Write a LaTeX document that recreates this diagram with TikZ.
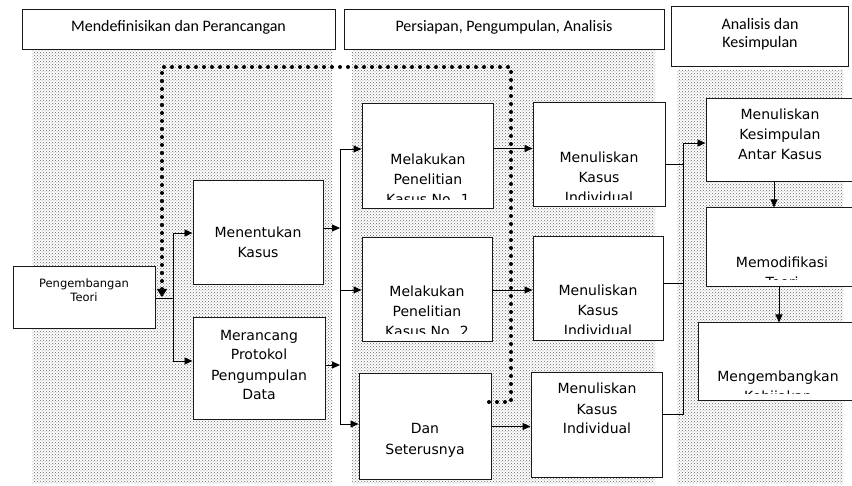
\documentclass[tikz,border=0pt]{standalone}
\usepackage{fontspec}
\setmainfont{DejaVu Sans}
\newfontfamily\hdrfont{Carlito}
\usetikzlibrary{patterns,arrows.meta}
\newcommand\mybox[5]{\node[hbox, minimum width={#4pt-#2pt}, minimum height={#5pt-#3pt}] (#1) at ({(#2+#4)/2},{(#3+#5)/2}) {};}
\begin{document}
\begin{tikzpicture}[x=1pt,y=-1pt,
  region/.style={pattern=crosshatch dots, pattern color=black!60},
  hbox/.style={draw=black!90, line width=1pt, fill=white, inner sep=0pt},
  txt/.style={align=center, anchor=base, inner sep=0pt, font=\fontsize{14}{20}\selectfont},
  smalltxt/.style={align=center, anchor=base, inner sep=0pt, font=\fontsize{11.5}{14}\selectfont},
  htxt/.style={align=center, anchor=base, inner sep=0pt, font=\hdrfont\fontsize{16}{18}\selectfont},
  conn/.style={draw=black, line width=0.9pt},
  arr/.style={conn, -{Triangle[length=8pt,width=7pt]}},
  fback/.style={draw=black, line width=4pt, line cap=round, dash pattern=on 0pt off 8pt},
]
\useasboundingbox (0,0) rectangle (852,486);
\fill[white] (0,0) rectangle (852,486);
% shaded phase regions
\path[region] (32,51) rectangle (332,483);
\path[region] (352,51) rectangle (655,483);
\path[region] (677,70) rectangle (843,483);
% headers
\mybox{H1}{22}{10}{335}{50}
\mybox{H2}{344}{10}{664}{50}
\mybox{H3}{671}{7}{848}{67}
\node[htxt] (H1t) at (178.5,32) {Mendefinisikan dan Perancangan};
\node[htxt] (H2t) at (504,32) {Persiapan, Pengumpulan, Analisis};
\node[htxt] (H3t) at (760,48) {Analisis dan\\Kesimpulan};
% boxes
\mybox{PT}{13}{267}{155}{329}
\mybox{MK}{193}{181}{323}{285}
\mybox{MP}{193}{318}{325}{420}
\mybox{ML1}{362}{104}{493}{209}
\mybox{ML2}{362}{238}{492}{342}
\mybox{DS}{359}{374}{491}{479}
\mybox{MN1}{533}{103}{665}{207}
\mybox{MN2}{533}{237}{663}{341}
\mybox{MN3}{531}{373}{662}{477}
\mybox{KS}{706}{99}{858}{182}
\mybox{MO}{706}{208}{858}{287}
\mybox{ME}{698}{323}{858}{401}
% texts (anchor base = baseline of the last line)
\node[smalltxt] (PTt) at (84,302) {Pengembangan\\Teori};
\node[txt] (MKt) at (258,258) {Menentukan\\Kasus};
\node[txt] (MPt) at (259,400) {Merancang\\Protokol\\Pengumpulan\\Data};
\begin{scope}
  \clip (ML1.north west) rectangle (ML1.south east |- 0,200);
  \node[txt] (ML1t) at (428,205) {Melakukan\\Penelitian\\Kasus No. 1};
\end{scope}
\begin{scope}
  \clip (ML2.north west) rectangle (ML2.south east |- 0,334);
  \node[txt] (ML2t) at (427,337) {Melakukan\\Penelitian\\Kasus No. 2};
\end{scope}
\node[txt, font=\fontsize{14}{21}\selectfont] (DSt) at (425,454) {Dan\\Seterusnya};
\begin{scope}
  \clip (MN1.north west) rectangle (MN1.south east |- 0,200);
  \node[txt] (MN1t) at (599,203) {Menuliskan\\Kasus\\Individual};
\end{scope}
\begin{scope}
  \clip (MN2.north west) rectangle (MN2.south east |- 0,334);
  \node[txt] (MN2t) at (598,336) {Menuliskan\\Kasus\\Individual};
\end{scope}
\node[txt] (MN3t) at (597,434) {Menuliskan\\Kasus\\Individual};
\node[txt] (KSt) at (780,160) {Menuliskan\\Kesimpulan\\Antar Kasus};
\begin{scope}
  \clip (MO.north west) rectangle (MO.south east |- 0,279.5);
  \node[txt] (MOt) at (782,288) {Memodifikasi\\Teori};
\end{scope}
\begin{scope}
  \clip (ME.north west) rectangle (ME.south east |- 0,393.5);
  \node[txt] (MEt) at (778,402) {Mengembangkan\\Kebijakan};
\end{scope}
% connectors: phase 1
\coordinate (j1) at (173,298);
\draw[conn] (PT.east) -- (j1);
\draw[arr] (j1) |- (MK.west);
\draw[arr] (j1) |- ([yshift=8pt]MP.west);
% bus 2
\coordinate (b2t) at (340,149);
\coordinate (b2b) at (340,424);
\draw[conn] (b2t) -- (b2b);
\draw[arr] ([yshift=5pt]MK.east) -- ([yshift=5pt]MK.east -| b2t);
\draw[arr] ([yshift=4pt]MP.east) -- ([yshift=4pt]MP.east -| b2t);
\draw[arr] (b2t) -- (b2t -| ML1.west);
\draw[arr] (ML2.west -| b2t) -- (ML2.west);
\draw[arr] (b2b) -- (b2b -| DS.west);
% phase 2
\draw[arr] ([yshift=8pt]ML1.east) -- ([yshift=8pt]ML1.east -| MN1.west);
\draw[arr] (ML2.east) -- (ML2.east -| MN2.west);
\draw[arr] (DS.east) -- (DS.east -| MN3.west);
% bus 3
\coordinate (b3t) at (683,143);
\coordinate (b3b) at (683,415);
\draw[conn] (b3t) -- (b3b);
\draw[conn] ([yshift=-9pt]MN1.east) -- ([yshift=-9pt]MN1.east -| b3t);
\draw[conn] ([yshift=6pt]MN2.east) -- ([yshift=6pt]MN2.east -| b3t);
\draw[conn] ([yshift=11pt]MN3.east) -- ([yshift=11pt]MN3.east -| b3t);
\draw[arr] (b3t) -- (b3t -| KS.west);
\draw[arr] ([xshift=-8pt]KS.south) -- ([xshift=-8pt]KS.south |- MO.north);
\draw[arr] ([xshift=-3pt]MO.south) -- ([xshift=-3pt]MO.south |- ME.north);
% feedback dotted loop
\coordinate (f0) at (489,402);
\coordinate (f1) at (511,67);
\coordinate (f2) at (162,67);
\draw[fback, -{Triangle[length=8pt,width=10pt]}] (f0) -| (f1) -- (f2) -- ([yshift=1pt]f2 |- PT.east);
\end{tikzpicture}
\end{document}
